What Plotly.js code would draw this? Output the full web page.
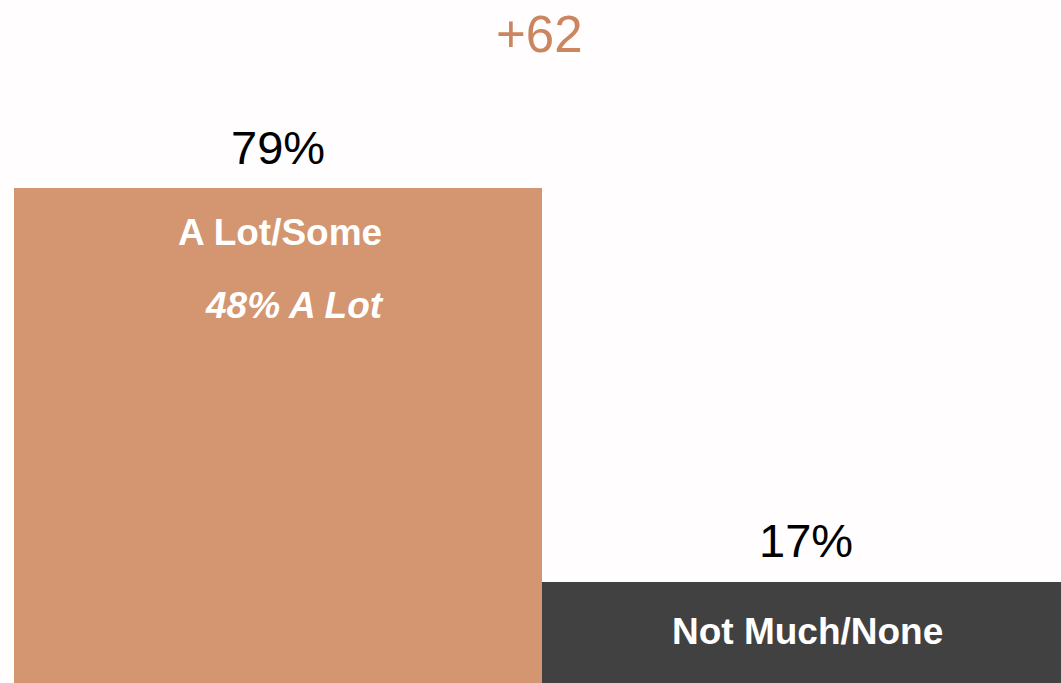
<!DOCTYPE html>
<html>
<head>
<meta charset="utf-8">
<script src="https://cdn.plot.ly/plotly-3.0.1.min.js"></script>
<style>
  html, body { margin: 0; padding: 0; background: #fffdfd; }
  #chart { width: 1061px; height: 683px; }
</style>
</head>
<body>
<div id="chart"></div>
<script>
// ---- data ----
var categories = ["A Lot/Some", "Not Much/None"];
var values = [79, 17];
var subLabels = ["48% A Lot", ""];
var barColors = ["#D49571", "#414141"];
var gapLabel = "+" + (values[0] - values[1]);

var xs = categories.map(function (c, i) { return i; });

var trace = {
  type: "bar",
  x: xs,
  y: values,
  width: 1,
  marker: { color: barColors, line: { width: 0 } },
  hoverinfo: "skip",
  cliponaxis: true
};

var annotations = [];
values.forEach(function (v, i) {
  // value label above bar
  annotations.push({
    x: xs[i], y: v, xref: "x", yref: "y",
    text: v + "%", showarrow: false,
    yanchor: "middle", xanchor: "center", yshift: 41,
    font: { family: "Liberation Sans, Arial, sans-serif", size: 47, color: "#000000" }
  });
  // category label inside bar
  annotations.push({
    x: xs[i], y: v, xref: "x", yref: "y",
    text: "<b>" + categories[i] + "</b>", showarrow: false,
    yanchor: "middle", xanchor: "center", yshift: i === 0 ? -44 : -50,
    xshift: 2,
    font: { family: "Liberation Sans, Arial, sans-serif", size: 37, color: "#ffffff" }
  });
  if (subLabels[i]) {
    annotations.push({
      x: xs[i], y: v, xref: "x", yref: "y",
      text: "<b><i>" + subLabels[i] + "</i></b>", showarrow: false,
      yanchor: "middle", xanchor: "center", yshift: -117, xshift: 17,
      font: { family: "Liberation Sans, Arial, sans-serif", size: 37, color: "#ffffff" }
    });
  }
});
annotations.push({
  x: 0.502, y: 1 - 34 / 683, xref: "paper", yref: "paper",
  text: gapLabel, showarrow: false,
  xanchor: "center", yanchor: "middle",
  font: { family: "Liberation Sans, Arial, sans-serif", size: 51, color: "#CB865F" }
});

var layout = {
  width: 1061, height: 683,
  margin: { l: 14, r: 0, t: 0, b: 0, pad: 0 },
  paper_bgcolor: "#fffdfd",
  plot_bgcolor: "#fffdfd",
  showlegend: false,
  bargap: 0,
  xaxis: { range: [-0.5, 1.483], visible: false, fixedrange: true },
  yaxis: { range: [1.1, 108.6], visible: false, fixedrange: true },
  annotations: annotations
};

Plotly.newPlot("chart", [trace], layout, { staticPlot: true, displayModeBar: false });
</script>
</body>
</html>
